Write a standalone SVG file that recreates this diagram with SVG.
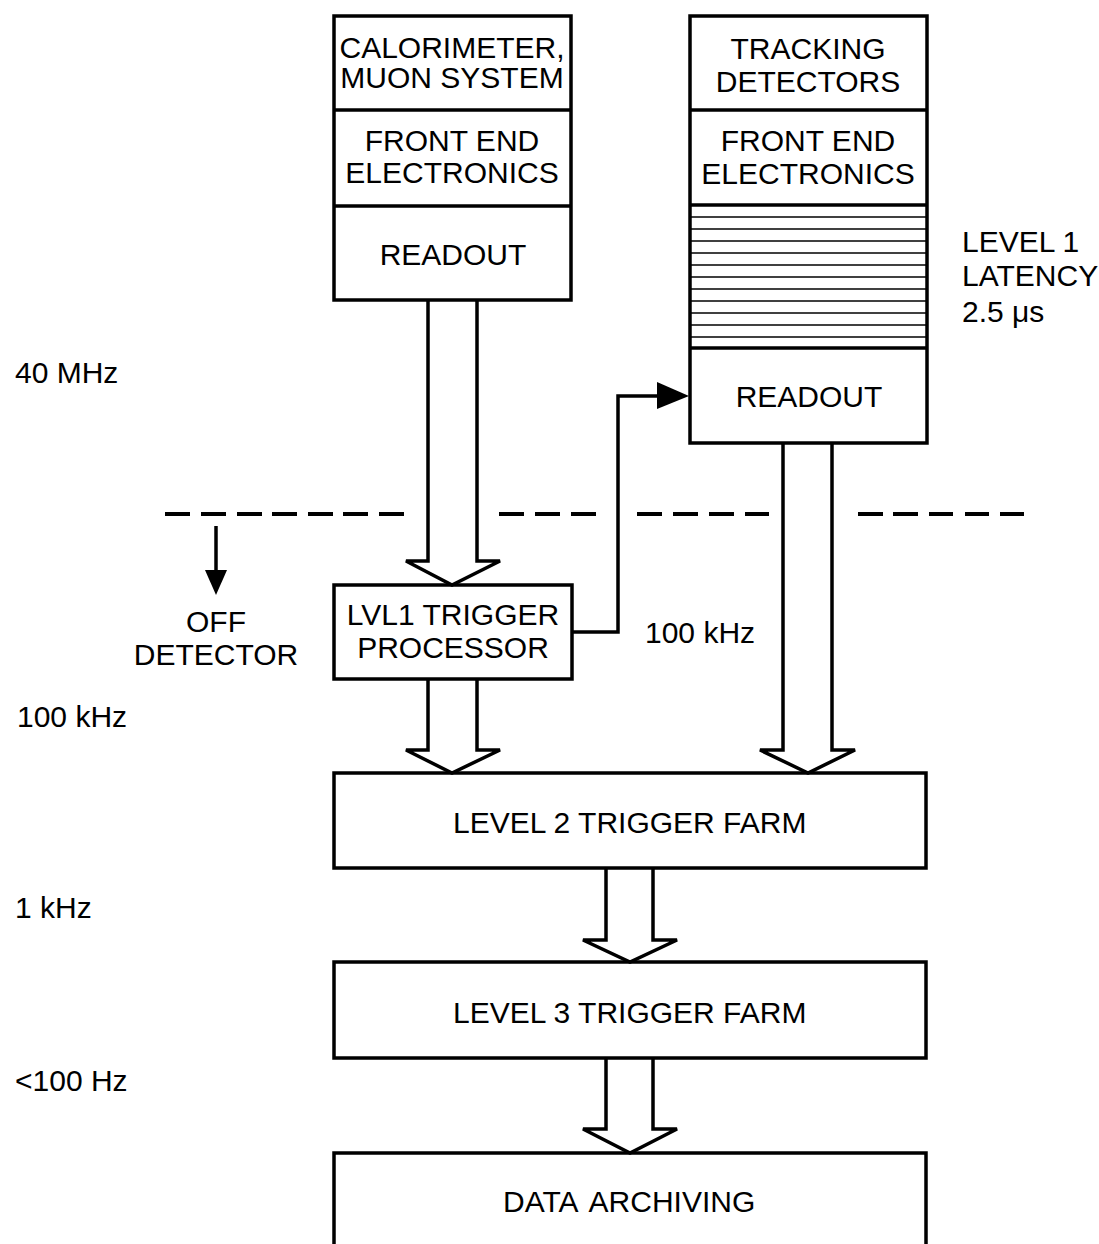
<svg xmlns="http://www.w3.org/2000/svg" width="1099" height="1244" viewBox="0 0 1099 1244">
<style>
text{font-family:"Liberation Sans",Arial,sans-serif;font-size:30px;fill:#000}
.c{text-anchor:middle}
.box{fill:#fff;stroke:#000;stroke-width:3.5}
.div{stroke:#000;stroke-width:3.5}
.hatch{stroke:#000;stroke-width:1.4}
.fat{fill:none;stroke:#000;stroke-width:3.5;stroke-linejoin:miter}
.ln{fill:none;stroke:#000;stroke-width:3.5}
.dash{fill:none;stroke:#000;stroke-width:4}
</style>
<rect width="1099" height="1244" fill="#fff"/>

<g id="calorimeter-column">
<rect class="box" x="334" y="16" width="237" height="284"/>
<line class="div" x1="334" y1="110" x2="571" y2="110"/>
<line class="div" x1="334" y1="206" x2="571" y2="206"/>
<text class="c" x="452" y="58">CALORIMETER,</text>
<text class="c" x="452" y="88">MUON SYSTEM</text>
<text class="c" x="452" y="151">FRONT END</text>
<text class="c" x="452" y="183">ELECTRONICS</text>
<text class="c" x="453" y="265">READOUT</text>
</g>

<g id="tracking-column">
<rect class="box" x="690" y="16" width="237" height="427"/>
<line class="div" x1="690" y1="110" x2="927" y2="110"/>
<line class="div" x1="690" y1="205" x2="927" y2="205"/>
<line class="div" x1="690" y1="348" x2="927" y2="348"/>
<g class="hatch">
<line x1="690" y1="217" x2="927" y2="217"/>
<line x1="690" y1="229" x2="927" y2="229"/>
<line x1="690" y1="241" x2="927" y2="241"/>
<line x1="690" y1="253" x2="927" y2="253"/>
<line x1="690" y1="265" x2="927" y2="265"/>
<line x1="690" y1="277" x2="927" y2="277"/>
<line x1="690" y1="289" x2="927" y2="289"/>
<line x1="690" y1="301" x2="927" y2="301"/>
<line x1="690" y1="313" x2="927" y2="313"/>
<line x1="690" y1="325" x2="927" y2="325"/>
<line x1="690" y1="337" x2="927" y2="337"/>
</g>
<text class="c" x="808" y="59">TRACKING</text>
<text class="c" x="808" y="92">DETECTORS</text>
<text class="c" x="808" y="151">FRONT END</text>
<text class="c" x="808" y="184">ELECTRONICS</text>
<text class="c" x="809" y="407">READOUT</text>
</g>

<g id="latency-label">
<text x="962" y="252">LEVEL 1</text>
<text x="962" y="286">LATENCY</text>
<text x="962" y="322">2.5 μs</text>
</g>

<g id="lvl1-trigger">
<rect class="box" x="334" y="585" width="238" height="94"/>
<text class="c" x="453" y="625">LVL1 TRIGGER</text>
<text class="c" x="453" y="658">PROCESSOR</text>
</g>

<g id="level2-farm">
<rect class="box" x="334" y="773" width="592" height="95"/>
<text x="453" y="833">LEVEL 2 TRIGGER FARM</text>
</g>

<g id="level3-farm">
<rect class="box" x="334" y="962" width="592" height="96"/>
<text x="453" y="1023">LEVEL 3 TRIGGER FARM</text>
</g>

<g id="data-archiving">
<path class="ln" d="M334,1250 V1153 H926 V1250"/>
<text x="503" y="1212">DATA<tspan dx="5"> ARCHIVING</tspan></text>
</g>

<g id="labels">
<text x="15" y="383">40 MHz</text>
<text x="17" y="727">100 kHz</text>
<text x="15" y="918">1 kHz</text>
<text x="15" y="1091">&lt;100 Hz</text>
<text x="645" y="643">100 kHz</text>
<text class="c" x="216" y="632">OFF</text>
<text class="c" x="216" y="665">DETECTOR</text>
</g>

<g id="connectors">
<path class="dash" d="M165,514h25M201,514h25M237,514h25M272,514h25M308,514h25M343,514h25M379,514h25M499,514h25M535,514h25M571,514h25M637,514h25M673,514h25M709,514h25M745,514h24M858,514h25M893,514h25M929,514h24M965,514h24M1000,514h24"/>
<path class="fat" d="M428,300 V561 H406 L452,585 L500,561 H477 V300"/>
<path class="fat" d="M428,679 V750 H406 L452,773 L500,750 H477 V679"/>
<path class="fat" d="M783,443 V750 H760 L808,773 L855,750 H832 V443"/>
<path class="fat" d="M606,868 V940 H583 L630,962 L677,940 H653 V868"/>
<path class="fat" d="M606,1058 V1129 H583 L630,1153 L677,1129 H653 V1058"/>
<path class="ln" d="M572,632 H618 V396 H660"/>
<path d="M657,382 L689,396 L657,409 z" fill="#000"/>
<line x1="216" y1="526" x2="216" y2="572" stroke="#000" stroke-width="3.5"/>
<path d="M205,570 L227,570 L216,595 z" fill="#000"/>
</g>
</svg>
